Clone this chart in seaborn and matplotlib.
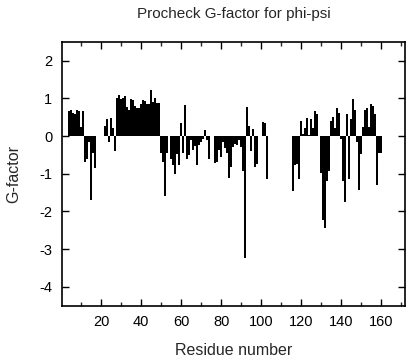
import numpy as np
import pandas as pd
import matplotlib
matplotlib.use("Agg")
import matplotlib.pyplot as plt
from matplotlib.ticker import MultipleLocator
import seaborn as sns

# G-factor per residue (0 where there is no bar)
residue = np.arange(1, 161)
gfactor = [
    0, 0, 0, 0.65, 0.70, 0.60, 0.58, 0.70, 0.67, 0.23,              # 1-10
    0.65, -0.68, -0.62, -0.15, -1.70, -0.45, -0.86, 0, 0, 0,        # 11-20
    0, 0.27, 0.45, -0.15, 0.48, 0.20, -0.40, 1.02, 1.08, 0.99,      # 21-30
    1.02, 1.06, 0.78, 0.69, 0.99, 0.95, 0.79, 0.75, 0.75, 0.86,     # 31-40
    0.95, 0.93, 0.84, 0.86, 1.23, 0.89, 1.02, 0.88, 0.88, -0.44,    # 41-50
    -0.68, -1.60, -0.46, 0, -0.62, -0.77, -1.00, -0.48, -0.78, 0.35,  # 51-60
    -0.46, 0.82, -0.60, -0.50, -0.10, -0.37, -0.27, -0.77, -0.24, -0.15,  # 61-70
    -0.07, 0.16, -0.10, -0.60, 0, 0, -0.72, -0.68, -0.37, -0.55,    # 71-80
    -0.15, -0.32, -0.46, -1.12, -0.81, -0.28, -0.21, -0.24, -0.10, -0.28,  # 81-90
    -0.92, -3.24, 0.76, 0.27, -0.41, 0.18, -0.81, -0.74, 0, 0,      # 91-100
    0.38, 0.35, -1.15, 0, 0, 0, 0, 0, 0, 0,                          # 101-110
    0, 0, 0, 0, 0, -1.47, -0.77, -0.74, -1.15, 0.40,                 # 111-120
    0.05, 0.20, 0.49, 0.03, 0.44, 0.20, 0.66, 0.58, 0, -0.99,       # 121-130
    -2.22, -2.44, -1.20, -0.94, 0.40, 0.51, 0.20, 0.73, 0.62, -0.09,  # 131-140
    -1.20, -1.74, 0.58, -1.15, 0.44, 0.99, 0.70, -0.15, -1.43, -0.48,  # 141-150
    0.23, 0.70, 0.73, 0.23, 0.86, 0.80, 0.58, -1.30, -0.46, -0.46,  # 151-160
]
x_ticks = [20, 40, 60, 80, 100, 120, 140, 160]
y_ticks = [-4, -3, -2, -1, 0, 1, 2]

df = pd.DataFrame({"residue": residue, "gfactor": gfactor})

sns.set_style("ticks")
plt.rcParams["font.family"] = ["Liberation Sans", "DejaVu Sans"]
plt.rcParams["axes.unicode_minus"] = False

fig = plt.figure(figsize=(4.16, 3.6), dpi=100)
ax = fig.add_axes([0.149, 0.151, 0.825, 0.733])

sns.barplot(data=df, x="residue", y="gfactor", native_scale=True,
            color="black", saturation=1, width=1, errorbar=None,
            linewidth=0, ax=ax)

ax.set_xlim(0.5, 172)
ax.set_ylim(-4.5, 2.5)
ax.set_xticks(x_ticks)
ax.set_yticks(y_ticks)
ax.xaxis.set_minor_locator(MultipleLocator(10))
ax.tick_params(direction="in", top=True, right=True, length=5, width=1,
               labelsize=10.5, colors="black", pad=7)
ax.tick_params(which="minor", direction="in", top=True, bottom=True,
               length=3, width=1)
for s in ax.spines.values():
    s.set_linewidth(1.2)
    s.set_color("black")

ax.set_title("Procheck G-factor for phi-psi", fontsize=11, pad=17)
ax.set_xlabel("Residue number", fontsize=11.5, labelpad=10)
ax.set_ylabel("G-factor", fontsize=11.5, labelpad=13)

fig.savefig("out.png", dpi=100)
